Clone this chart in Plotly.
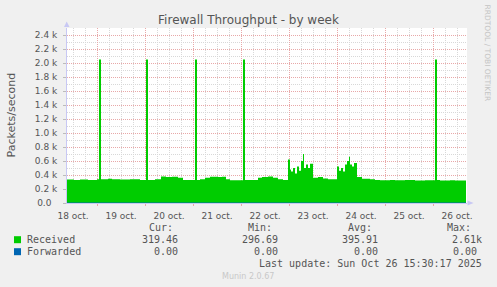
import pandas as pd
import plotly.graph_objects as go

# ---- data (hours since 2025-10-18 09:00, packets/second) ----
START = "2025-10-18 09:00"
END = "2025-10-26 17:00"
recv_hours = [0, 3.5, 6.5, 10.5, 15, 16, 17, 20.5, 22.5, 26.5, 31.5, 36.5, 39.5, 40.5,
              44, 47, 49.5, 52.5, 55.5, 58, 64, 65, 66.5, 69, 71.5, 75.5, 77.5, 79.5,
              81.5, 88, 89, 95.5, 97.5, 100.5, 103, 105.5, 108, 110.5, 111.5, 112, 113,
              114, 115, 116, 117, 118, 118.5, 119.5, 120.5, 121.5, 123, 125.5, 128,
              130.5, 135, 136, 137, 138, 139, 140, 141, 141.5, 142.5, 143.5, 145, 147.5,
              151.5, 154, 156.5, 161.5, 164, 169, 174, 179, 184, 185, 186.5, 191.5, 194,
              199.5]
recv_values = [335, 330, 335, 330, 340, 2050, 340, 345, 340, 335, 340, 330, 2050, 330,
               340, 380, 370, 375, 360, 330, 2050, 330, 340, 360, 375, 370, 375, 340,
               325, 2050, 330, 360, 370, 380, 360, 340, 330, 620, 480, 450, 500,
               420, 520, 460, 600, 700, 500, 550, 500, 560, 360, 370, 350,
               340, 520, 460, 500, 450, 550, 600, 660, 550, 520, 570, 370, 345,
               340, 330, 325, 330, 325, 330, 320, 325, 2050, 330, 320, 325, 320,
               320]
fwd_hours = [0, 199.5]
fwd_values = [0, 0]

y_tickvals = [0, 200, 400, 600, 800, 1000, 1200, 1400, 1600, 1800, 2000, 2200, 2400]
y_ticktext = ["0.0\u00a0\u00a0", "0.2 k", "0.4 k", "0.6 k", "0.8 k", "1.0 k", "1.2 k",
              "1.4 k", "1.6 k", "1.8 k", "2.0 k", "2.2 k", "2.4 k"]

legend_cols = ["Cur:", "Min:", "Avg:", "Max:"]
recv_stats = ["319.46", "296.69", "395.91", "2.61k"]
fwd_stats = ["0.00", "0.00", "0.00", "0.00"]

base = pd.Timestamp(START)
recv_x = base + pd.to_timedelta(recv_hours, unit="h")
fwd_x = base + pd.to_timedelta(fwd_hours, unit="h")

W, H = 497, 287
L, R, T, B = 67, 30, 28, 84
PW, PH = W - L - R, H - T - B


def px(x):
    return (x - L) / PW


def py(y):
    return (H - B - y) / PH


GREEN = "#00CC00"
BLUE = "#0066B3"
TXT = "#555555"
MAJ = "#E8A8A8"
MIN = "#D8D8D8"
AXC = "#C8C8F4"

fig = go.Figure()
fig.add_trace(go.Scatter(x=recv_x, y=recv_values, mode="lines", line=dict(width=0, shape="hv", color=GREEN),
                         fill="tozeroy", fillcolor=GREEN, name="Received", hoverinfo="skip"))
fig.add_trace(go.Scatter(x=fwd_x, y=fwd_values, mode="lines", line=dict(width=1, color=BLUE),
                         name="Forwarded", hoverinfo="skip"))

fig.update_layout(
    width=W, height=H, margin=dict(l=L, r=R, t=T, b=B, pad=0),
    paper_bgcolor="#F0F0F0", plot_bgcolor="#FFFFFF",
    showlegend=False,
    font=dict(family="DejaVu Sans", size=9, color=TXT),
    title=dict(text="Firewall Throughput - by week", x=0.5, xanchor="center",
               y=1 - 19.3 / H, yanchor="middle", yref="container",
               font=dict(family="DejaVu Sans", size=12, color=TXT)),
)

fig.update_xaxes(
    type="date", range=[START, END],
    tick0="2025-10-18", dtick=86400000, ticklabelmode="period", tickformat="%d oct.",
    showgrid=True, gridcolor=MAJ, griddash="1px,1px", gridwidth=1,
    minor=dict(dtick=6 * 3600000, tick0="2025-10-18", showgrid=True, gridcolor=MIN,
               griddash="1px,1px", gridwidth=1),
    ticks="outside", ticklen=2, tickcolor=MAJ,
    showline=True, linecolor=AXC, linewidth=1,
    zeroline=False, tickfont=dict(size=9, color=TXT), ticklabelstandoff=2,
)
fig.update_yaxes(
    range=[0, 2500], tickvals=y_tickvals, ticktext=y_ticktext,
    showgrid=True, gridcolor=MAJ, griddash="1px,1px", gridwidth=1,
    minor=dict(dtick=100, tick0=0, showgrid=True, gridcolor=MIN, griddash="1px,1px", gridwidth=1),
    ticks="outside", ticklen=3, tickcolor="#BBBBBB",
    showline=True, linecolor=AXC, linewidth=1,
    zeroline=False, tickfont=dict(size=9, color=TXT), ticklabelstandoff=4,
)

# axis arrows
fig.add_shape(type="path", xref="paper", yref="paper",
              path=f"M {px(64)} {py(27)} L {px(69.5)} {py(27)} L {px(66.7)} {py(21.5)} Z",
              fillcolor=AXC, line=dict(width=0))
fig.add_shape(type="path", xref="paper", yref="paper",
              path=f"M {px(467.5)} {py(200.5)} L {px(467.5)} {py(205.5)} L {px(473.5)} {py(203)} Z",
              fillcolor=AXC, line=dict(width=0))

# y-axis title
fig.add_annotation(text="Packets/second", xref="paper", yref="paper", x=px(10.5), y=py(115),
                   textangle=-90, showarrow=False, xanchor="center", yanchor="middle",
                   font=dict(family="DejaVu Sans", size=11, color=TXT))
# watermark
fig.add_annotation(text="RRDTOOL / TOBI OETIKER", xref="paper", yref="paper", x=px(487.5), y=py(53),
                   textangle=90, showarrow=False, xanchor="center", yanchor="middle",
                   font=dict(family="DejaVu Sans", size=7.5, color="#C4C4C4"))

MONO = dict(family="DejaVu Sans Mono", size=10, color=TXT)


def txt(s, x, y, anchor="right", font=MONO):
    fig.add_annotation(text=s, xref="paper", yref="paper", x=px(x), y=py(y), showarrow=False,
                       xanchor=anchor, yanchor="middle", font=font, borderpad=0)


col_right = [173.5, 273, 372.5, 471.5]
val_right = [179, 279, 378.5, 478]
for c, xr in zip(legend_cols, col_right):
    txt(c, xr, 227)
txt("Received", 25.5, 239.7, "left")
txt("Forwarded", 25.5, 251.7, "left")
for v, xr in zip(recv_stats, val_right):
    txt(v, xr + (4.5 if v.endswith("k") else 0), 239.7)
for v, xr in zip(fwd_stats, val_right):
    txt(v, xr, 251.7)
txt("Last update: Sun Oct 26 15:30:17 2025", 483, 263.3)
txt("Munin 2.0.67", 248, 276, "center", dict(family="DejaVu Sans", size=8, color="#C8C8C8"))

# legend swatches
for yc, col in [(239.7, GREEN), (251.7, BLUE)]:
    fig.add_shape(type="rect", xref="paper", yref="paper", x0=px(14), x1=px(21),
                  y0=py(yc - 3.5), y1=py(yc + 3.5), fillcolor=col, line=dict(width=0))

fig.write_html("out.html")
